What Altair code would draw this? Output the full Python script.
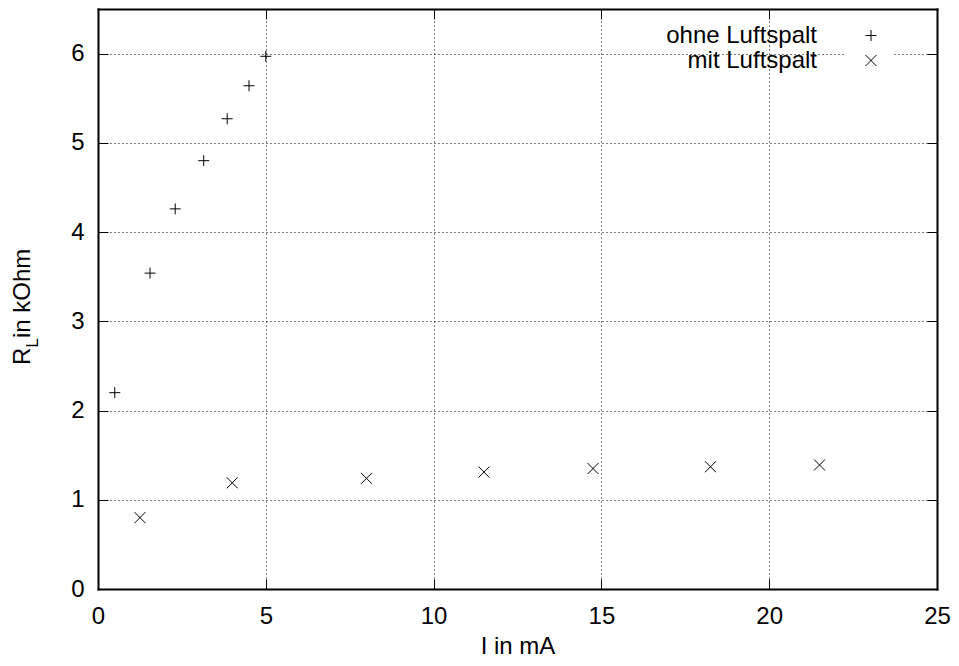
import altair as alt
import pandas as pd

# data
ohne_I = [0.5, 1.55, 2.3, 3.15, 3.85, 4.5, 5.0]
ohne_R = [2.2, 3.54, 4.26, 4.8, 5.27, 5.64, 5.97]
mit_I = [1.25, 4.0, 8.0, 11.5, 14.75, 18.25, 21.5]
mit_R = [0.8, 1.19, 1.24, 1.31, 1.35, 1.37, 1.39]
series = ["ohne Luftspalt", "mit Luftspalt"]
x_ticks = [0, 5, 10, 15, 20, 25]
y_ticks = [0, 1, 2, 3, 4, 5, 6]

df = pd.DataFrame({
    "I": ohne_I + mit_I,
    "R": ohne_R + mit_R,
    "Serie": [series[0]] * len(ohne_I) + [series[1]] * len(mit_I),
})

W, H = 839, 580
FONT = "Liberation Sans"
FS = 24
PLUS = "M-1,0L1,0M0,-1L0,1"
CROSS = "M-1,-1L1,1M-1,1L1,-1"

xs = alt.Scale(domain=[0, 25], nice=False, zero=False)
ys = alt.Scale(domain=[0, 6.5], nice=False, zero=False)

base = alt.Chart(df)

main = base.mark_point(filled=False, size=121, strokeWidth=1, color="black", opacity=1).encode(
    x=alt.X("I:Q", scale=xs, axis=alt.Axis(
        orient="bottom", values=x_ticks, grid=True, ticks=False, domain=False,
        gridColor="black", gridDash=[1, 3], gridWidth=1, gridOpacity=1,
        labelFont=FONT, labelFontSize=FS, labelColor="black", labelPadding=15,
        labelFlush=False, labelOverlap=False,
        title="I in mA", titleFont=FONT, titleFontSize=FS, titleFontWeight="normal",
        titleColor="black", titlePadding=6, zindex=0)),
    y=alt.Y("R:Q", scale=ys, axis=alt.Axis(
        orient="left", values=y_ticks, grid=True, ticks=False, domain=False,
        gridColor="black", gridDash=[1, 3], gridWidth=1, gridOpacity=1,
        labelFont=FONT, labelFontSize=FS, labelColor="black", labelPadding=14,
        labelFlush=False, labelOverlap=False, title="", zindex=0)),
    shape=alt.Shape("Serie:N", scale=alt.Scale(domain=series, range=[PLUS, CROSS]),
                    legend=alt.Legend(
                        title=None, orient="none", legendX=747, legendY=0.5,
                        labelAlign="right", labelOffset={"expr": "-66"}, labelFont=FONT,
                        labelFontSize=FS, labelColor="black", symbolSize=121,
                        symbolStrokeWidth=1, symbolStrokeColor="black",
                        fillColor="white", padding=14, rowPadding=1, zindex=1)),
)


def tick_axis(orient, off, dim):
    return alt.Axis(orient=orient, offset=off, values=(x_ticks if dim == "x" else y_ticks),
                    grid=False, labels=False, ticks=True, tickSize=10, tickColor="black",
                    tickWidth=1, domain=True, domainColor="black", domainWidth=2,
                    domainCap="square", title="", zindex=2)


ticks_a = base.mark_point(opacity=0).encode(
    x=alt.X("I:Q", scale=xs, axis=tick_axis("top", -H, "x")),
    y=alt.Y("R:Q", scale=ys, axis=tick_axis("right", -W, "y")),
)
ticks_b = base.mark_point(opacity=0).encode(
    x=alt.X("I:Q", scale=xs, axis=tick_axis("bottom", -H, "x")),
    y=alt.Y("R:Q", scale=ys, axis=tick_axis("left", -W, "y")),
)

one = alt.Data(values=[{}])
t_R = alt.Chart(one).mark_text(text="R", angle=270, align="left", baseline="alphabetic",
                               font=FONT, fontSize=FS, color="black").encode(
    x=alt.value(-68), y=alt.value(356))
t_L = alt.Chart(one).mark_text(text="L", angle=270, align="left", baseline="alphabetic",
                               font=FONT, fontSize=17, color="black").encode(
    x=alt.value(-60), y=alt.value(338.7))
t_rest = alt.Chart(one).mark_text(text=" in kOhm", angle=270, align="left", baseline="alphabetic",
                                  font=FONT, fontSize=FS, color="black").encode(
    x=alt.value(-68), y=alt.value(329))

chart = alt.layer(main, ticks_a, ticks_b, t_R, t_L, t_rest).resolve_axis(
    x="independent", y="independent"
).properties(
    width=W, height=H,
    autosize=alt.AutoSizeParams(type="none"),
    padding={"left": 90, "top": 1, "right": 14, "bottom": 69},
).configure_view(strokeWidth=0)

chart.save("out.html", embed_options={"renderer": "svg", "actions": False})
